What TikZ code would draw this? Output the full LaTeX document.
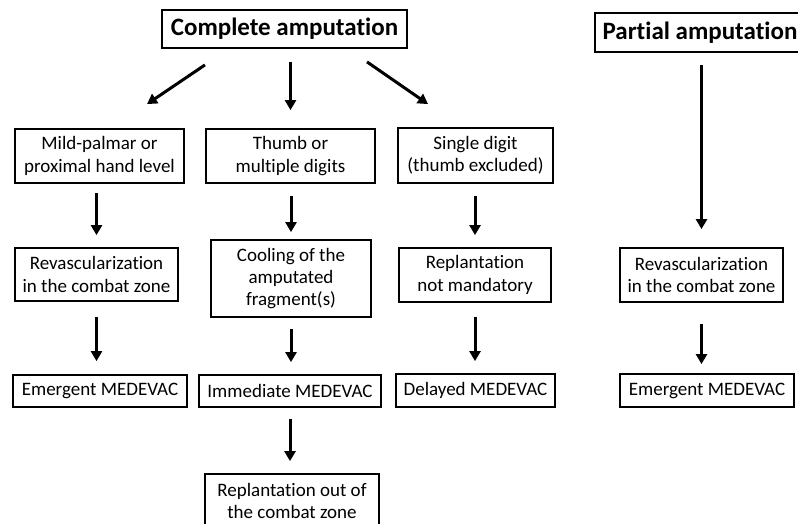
\documentclass[tikz,border=0pt]{standalone}
\usepackage{fontspec}
\setmainfont{Carlito}[Ligatures=NoCommon, RawFeature={-liga}]
\usetikzlibrary{arrows.meta}
\begin{document}
\begin{tikzpicture}[x=1pt,y=-1pt,
  box/.style={draw, line width=1.8pt, align=center, inner sep=0pt,
    font=\fontsize{19}{22.3}\selectfont},
  titlebox/.style={box, font=\fontsize{25}{28}\selectfont\bfseries},
  arr/.style={line width=3pt, -{Triangle[length=10pt,width=11pt]}}]
\useasboundingbox (0,0) rectangle (798,524);
\fill[white] (0,0) rectangle (798,524);
\clip (0,0) rectangle (798,524);

% titles
\node[titlebox, minimum width=245, minimum height=38] (CA) at (284.5,29) {Complete amputation};
\node[titlebox, minimum width=210, minimum height=39] (PA) at (700,32.5) {Partial amputation};

% second row
\node[box, minimum width=169, minimum height=54] (mild) at (99.5,156) {Mild-palmar or\\proximal hand level};
\node[box, minimum width=169, minimum height=54] (thumb) at (290.5,156) {Thumb or\\multiple digits};
\node[box, minimum width=155, minimum height=55] (single) at (475.5,155.5) {Single digit\\(thumb excluded)};

% third row
\node[box, minimum width=163, minimum height=53] (revL) at (96.5,274.5) {Revascularization\\in the combat zone};
\node[box, minimum width=160, minimum height=77] (cool) at (291,278.5) {Cooling of the\\amputated\\fragment(s)};
\node[box, minimum width=152, minimum height=54] (replNM) at (475,275) {Replantation\\not mandatory};
\node[box, minimum width=163, minimum height=54] (revR) at (701.5,275) {Revascularization\\in the combat zone};

% fourth row
\node[box, minimum width=174, minimum height=32] (emL) at (100,391) {Emergent MEDEVAC};
\node[box, minimum width=182, minimum height=32] (imm) at (290,391) {Immediate MEDEVAC};
\node[box, minimum width=159, minimum height=33] (del) at (475.5,390.5) {Delayed MEDEVAC};
\node[box, minimum width=174, minimum height=33] (emR) at (707,390.5) {Emergent MEDEVAC};

% last
\node[box, minimum width=174, minimum height=54] (replOut) at (292,501) {Replantation out of\\the combat zone};

% arrows from Complete amputation
\draw[arr] ([shift={(-79.5,16)}]CA.south) -- ([shift={(47.5,-24)}]mild.north);
\draw[arr, shorten <=13pt, shorten >=18pt] (CA.south -| thumb.north) -- (thumb.north);
\draw[arr] ([shift={(82.5,13)}]CA.south) -- ([shift={(-47.5,-23)}]single.north);

% column 1
\draw[arr, shorten <=9pt, shorten >=12pt] (mild.south -| revL.north) -- (revL.north);
\draw[arr, shorten <=15pt, shorten >=13pt] (revL.south) -- (revL.south |- emL.north);
% column 2
\draw[arr, shorten <=12pt, shorten >=7pt] (thumb.south -| cool.north) -- (cool.north);
\draw[arr, shorten <=11pt, shorten >=12pt] (cool.south) -- (cool.south |- imm.north);
\draw[arr, shorten <=11pt, shorten >=12pt] (imm.south) -- (imm.south |- replOut.north);
% column 3
\draw[arr, shorten <=12pt, shorten >=12pt] (single.south -| replNM.north) -- (replNM.north);
\draw[arr, shorten <=14pt, shorten >=12pt] (replNM.south) -- (replNM.south |- del.north);
% partial
\draw[arr, shorten <=12pt, shorten >=18pt] (PA.south -| revR.north) -- (revR.north);
\draw[arr, shorten <=21pt, shorten >=9pt] (revR.south) -- (revR.south |- emR.north);
\end{tikzpicture}
\end{document}
